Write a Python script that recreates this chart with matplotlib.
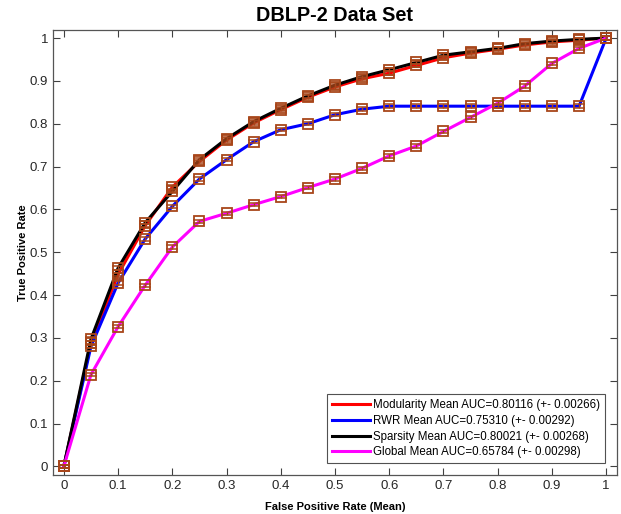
import matplotlib
matplotlib.use("Agg")
import matplotlib.pyplot as plt
import numpy as np

plt.rcParams['font.family'] = ['Liberation Sans', 'DejaVu Sans']

fpr = [0, 0.05, 0.1, 0.15, 0.2, 0.25, 0.3, 0.35, 0.4, 0.45, 0.5,
       0.55, 0.6, 0.65, 0.7, 0.75, 0.8, 0.85, 0.9, 0.95, 1.0]

modularity = [0, 0.288, 0.448, 0.562, 0.652, 0.712, 0.762, 0.802, 0.833, 0.862, 0.886,
              0.905, 0.918, 0.936, 0.954, 0.965, 0.974, 0.984, 0.991, 0.995, 1.0]
rwr = [0, 0.280, 0.428, 0.531, 0.607, 0.671, 0.716, 0.758, 0.786, 0.800, 0.821,
       0.834, 0.841, 0.841, 0.841, 0.841, 0.841, 0.841, 0.841, 0.841, 1.0]
sparsity = [0, 0.297, 0.463, 0.569, 0.642, 0.716, 0.765, 0.805, 0.836, 0.865, 0.890,
            0.910, 0.926, 0.943, 0.960, 0.968, 0.976, 0.987, 0.993, 0.997, 1.0]
global_ = [0, 0.214, 0.326, 0.423, 0.512, 0.572, 0.591, 0.611, 0.630, 0.651, 0.671,
           0.696, 0.725, 0.748, 0.782, 0.815, 0.848, 0.888, 0.941, 0.976, 1.0]

labels = ["Modularity Mean AUC=0.80116 (+- 0.00266)",
          "RWR Mean AUC=0.75310 (+- 0.00292)",
          "Sparsity Mean AUC=0.80021 (+- 0.00268)",
          "Global Mean AUC=0.65784 (+- 0.00298)"]
colors = ['#FF0000', '#0000FF', '#000000', '#FF00FF']
err = [0.004, 0.004, 0.004, 0.004]

fig = plt.figure(figsize=(6.21, 5.14), dpi=100)
ax = fig.add_axes([0.0853, 0.0759, 0.9083, 0.8667])

series = [modularity, rwr, sparsity, global_]
for ys, c, lab in zip(series, colors, labels):
    ax.plot(fpr, ys, color=c, lw=2.2, label=lab, zorder=2)

mcol = '#A8461A'
for ys, e in zip(series, err):
    ax.errorbar(fpr, ys, yerr=e, fmt='none', ecolor=mcol, elinewidth=1.0,
                capsize=4.5, capthick=1.1, zorder=3)
    ax.plot(fpr, ys, ls='none', marker='s', ms=6.5, mfc='none', mec=mcol,
            mew=1.3, zorder=4)

ax.set_xlim(-0.02, 1.02)
ax.set_ylim(-0.02, 1.02)
ax.set_xticks(np.arange(0, 1.01, 0.1))
ax.set_yticks(np.arange(0, 1.01, 0.1))
ax.set_xticklabels(['0', '0.1', '0.2', '0.3', '0.4', '0.5', '0.6', '0.7', '0.8', '0.9', '1'])
ax.set_yticklabels(['0', '0.1', '0.2', '0.3', '0.4', '0.5', '0.6', '0.7', '0.8', '0.9', '1'])
ax.tick_params(direction='in', top=True, right=True, length=5, width=0.8,
               labelsize=9.5, colors='#404040', labelcolor='#262626')
for s in ax.spines.values():
    s.set_color('#555555')
    s.set_linewidth(0.9)

ax.set_title('DBLP-2 Data Set', fontsize=14.3, fontweight='bold', pad=6)
ax.set_xlabel('False Positive Rate (Mean)', fontsize=8, fontweight='bold', labelpad=7)
ax.set_ylabel('True Positive Rate', fontsize=8, fontweight='bold', labelpad=1)

leg = ax.legend(loc='lower right', fontsize=8.3, frameon=True, fancybox=False,
                edgecolor='#262626', handlelength=3.3, borderaxespad=1.0,
                labelspacing=0.32, handletextpad=0.3, borderpad=0.45)
leg.get_frame().set_linewidth(0.8)

fig.savefig('out.png', dpi=100)
